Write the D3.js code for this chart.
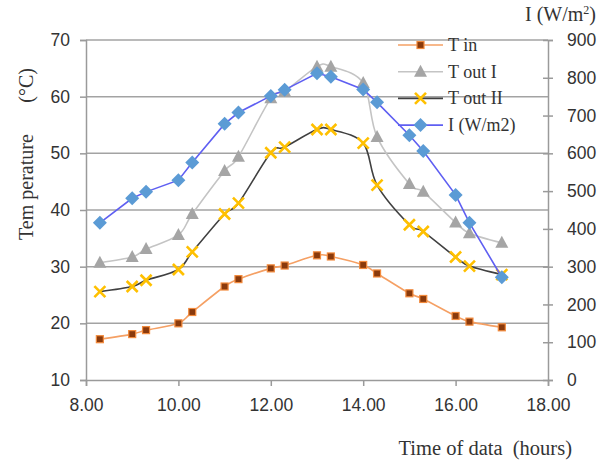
<!DOCTYPE html>
<html>
<head>
<meta charset="utf-8">
<script src="https://cdnjs.cloudflare.com/ajax/libs/d3/7.8.5/d3.min.js"></script>
<style>
  body { margin: 0; background: #fff; }
  text { fill: #333; }
</style>
</head>
<body>
<div id="chart"></div>
<script>
// time of data, hh.mm read as a plain decimal (8.30 -> 8.3)
var times = [8.3, 9.0, 9.3, 10.0, 10.3, 11.0, 11.3, 12.0, 12.3, 13.0, 13.3, 14.0, 14.3, 15.0, 15.3, 16.0, 16.3, 17.0];
var tIn   = [17.2, 18.1, 18.8, 20.0, 22.0, 26.5, 27.8, 29.7, 30.2, 32.0, 31.8, 30.3, 28.8, 25.3, 24.3, 21.3, 20.3, 19.3];
var tOut1 = [30.7, 31.7, 33.1, 35.6, 39.3, 46.9, 49.4, 59.7, 60.9, 65.3, 65.3, 62.4, 52.9, 44.6, 43.2, 37.8, 35.9, 34.2];
var tOut2 = [25.6, 26.5, 27.6, 29.5, 32.6, 39.3, 41.2, 50.1, 51.1, 54.2, 54.2, 51.8, 44.4, 37.4, 36.2, 31.7, 30.1, 28.6];
var irr   = [416, 481, 498, 529, 576, 678, 708, 752, 768, 812, 803, 769, 735, 648, 606, 490, 416, 272];

var xTicks = [8, 10, 12, 14, 16, 18];
var leftTicks = [10, 20, 30, 40, 50, 60, 70];
var rightTicks = [0, 100, 200, 300, 400, 500, 600, 700, 800, 900];
var seriesNames = ["T in", "T out I", "T out II", "I (W/m2)"];

var svgWidth = 613, svgHeight = 461;
var margin = { top: 40, right: 65, bottom: 81, left: 86 };
var width = svgWidth - margin.left - margin.right;
var height = svgHeight - margin.top - margin.bottom;

var svg = d3.select("#chart")
  .append("svg")
  .attr("width", svgWidth)
  .attr("height", svgHeight);

var g = svg.append("g")
  .attr("transform", "translate(" + margin.left + "," + margin.top + ")");

var x = d3.scaleLinear().domain([8, 18]).range([0, width]);
var yL = d3.scaleLinear().domain([10, 70]).range([height, 0]);
var yR = d3.scaleLinear().domain([0, 900]).range([height, 0]);

var axisColor = "#9a9a9a";
var tickFont = "'Liberation Sans', Arial, sans-serif";
var serif = "'Liberation Serif', 'Times New Roman', serif";

// horizontal grid
g.selectAll("line.grid")
  .data(leftTicks.slice(1))
  .enter().append("line")
  .attr("class", "grid")
  .attr("x1", 0).attr("x2", width)
  .attr("y1", function(d){ return yL(d); })
  .attr("y2", function(d){ return yL(d); })
  .attr("stroke", "#a3a3a3")
  .attr("stroke-width", 1.5);

// left axis
var leftAxis = g.append("g")
  .call(d3.axisLeft(yL).tickValues(leftTicks).tickSize(6).tickPadding(10));
// right axis (cross ticks)
var rightAxis = g.append("g")
  .attr("transform", "translate(" + width + ",0)")
  .call(d3.axisRight(yR).tickValues(rightTicks).tickSize(5).tickPadding(14));
rightAxis.selectAll(".tick line").attr("x1", -5);
// bottom axis
var bottomAxis = g.append("g")
  .attr("transform", "translate(0," + height + ")")
  .call(d3.axisBottom(x).tickValues(xTicks).tickSize(6).tickPadding(13)
    .tickFormat(d3.format(".2f")));

[leftAxis, rightAxis, bottomAxis].forEach(function(a){
  a.select(".domain").attr("stroke", axisColor).attr("stroke-width", 1.5);
  a.selectAll(".tick line").attr("stroke", axisColor).attr("stroke-width", 1.5);
  a.selectAll(".tick text")
    .attr("fill", "#333")
    .style("font-family", tickFont)
    .style("font-size", "17.5px");
});

// series
var curveSmooth = d3.curveCardinal.tension(0);
var series = [
  { name: seriesNames[0], vals: tIn, y: yL, line: "#f5a064", curve: curveSmooth, marker: "square" },
  { name: seriesNames[1], vals: tOut1, y: yL, line: "#c4c4c4", curve: curveSmooth, marker: "triangle" },
  { name: seriesNames[2], vals: tOut2, y: yL, line: "#404040", curve: curveSmooth, marker: "cross" },
  { name: seriesNames[3], vals: irr, y: yR, line: "#5f5ff2", curve: d3.curveLinear, marker: "diamond" }
];

function drawMarker(sel, type) {
  if (type == "square") {
    sel.append("rect")
      .attr("x", -3.5).attr("y", -3.5)
      .attr("width", 7).attr("height", 7)
      .attr("fill", "#8a3a0c")
      .attr("stroke", "#f28a3c")
      .attr("stroke-width", 1.2);
  } else if (type == "triangle") {
    sel.append("path")
      .attr("d", "M0,-7L6.5,5L-6.5,5Z")
      .attr("fill", "#a5a5a5");
  } else if (type == "cross") {
    sel.append("path")
      .attr("d", "M-5.5,-5.5L5.5,5.5M-5.5,5.5L5.5,-5.5")
      .attr("stroke", "#ffc000")
      .attr("stroke-width", 2.6);
  } else {
    sel.append("path")
      .attr("d", "M0,-7L7,0L0,7L-7,0Z")
      .attr("fill", "#5b9bd5");
  }
}

series.forEach(function(s){
  var pts = times.map(function(t, i){ return [t, s.vals[i]]; });
  var line = d3.line()
    .x(function(d){ return x(d[0]); })
    .y(function(d){ return s.y(d[1]); })
    .curve(s.curve);
  g.append("path")
    .datum(pts)
    .attr("d", line)
    .attr("fill", "none")
    .attr("stroke", s.line)
    .attr("stroke-width", 1.6);
  g.selectAll(null)
    .data(pts)
    .enter().append("g")
    .attr("transform", function(d){ return "translate(" + x(d[0]) + "," + s.y(d[1]) + ")"; })
    .each(function(){ drawMarker(d3.select(this), s.marker); });
});

// legend
var legend = svg.append("g").attr("transform", "translate(398,45)");
series.forEach(function(s, i){
  var row = legend.append("g").attr("transform", "translate(0," + (i * 26.7) + ")");
  row.append("line")
    .attr("x1", 0).attr("x2", 45)
    .attr("stroke", s.line)
    .attr("stroke-width", 1.6);
  var m = row.append("g").attr("transform", "translate(22.5,0)");
  drawMarker(m, s.marker);
  row.append("text")
    .attr("x", 50).attr("y", 6)
    .style("font-family", serif)
    .style("font-size", "18px")
    .text(s.name);
});

// axis titles
svg.append("text")
  .attr("transform", "translate(33,240) rotate(-90)")
  .style("font-family", serif)
  .style("font-size", "20px")
  .text("Tem perature");
svg.append("text")
  .attr("transform", "translate(33,68) rotate(-90)")
  .attr("text-anchor", "end")
  .style("font-family", serif)
  .style("font-size", "20px")
  .text("(°C)");

svg.append("text")
  .attr("x", 572).attr("y", 455)
  .attr("text-anchor", "end")
  .style("font-family", serif)
  .style("font-size", "20.5px")
  .attr("xml:space", "preserve")
  .text("Time of data  (hours)");

var iTitle = svg.append("text")
  .attr("x", 596).attr("y", 21)
  .attr("text-anchor", "end")
  .style("font-family", serif)
  .style("font-size", "20px");
iTitle.append("tspan").text("I (W/m");
iTitle.append("tspan").attr("dy", -7).style("font-size", "12px").text("2");
iTitle.append("tspan").attr("dy", 7).text(")");
</script>
</body>
</html>
